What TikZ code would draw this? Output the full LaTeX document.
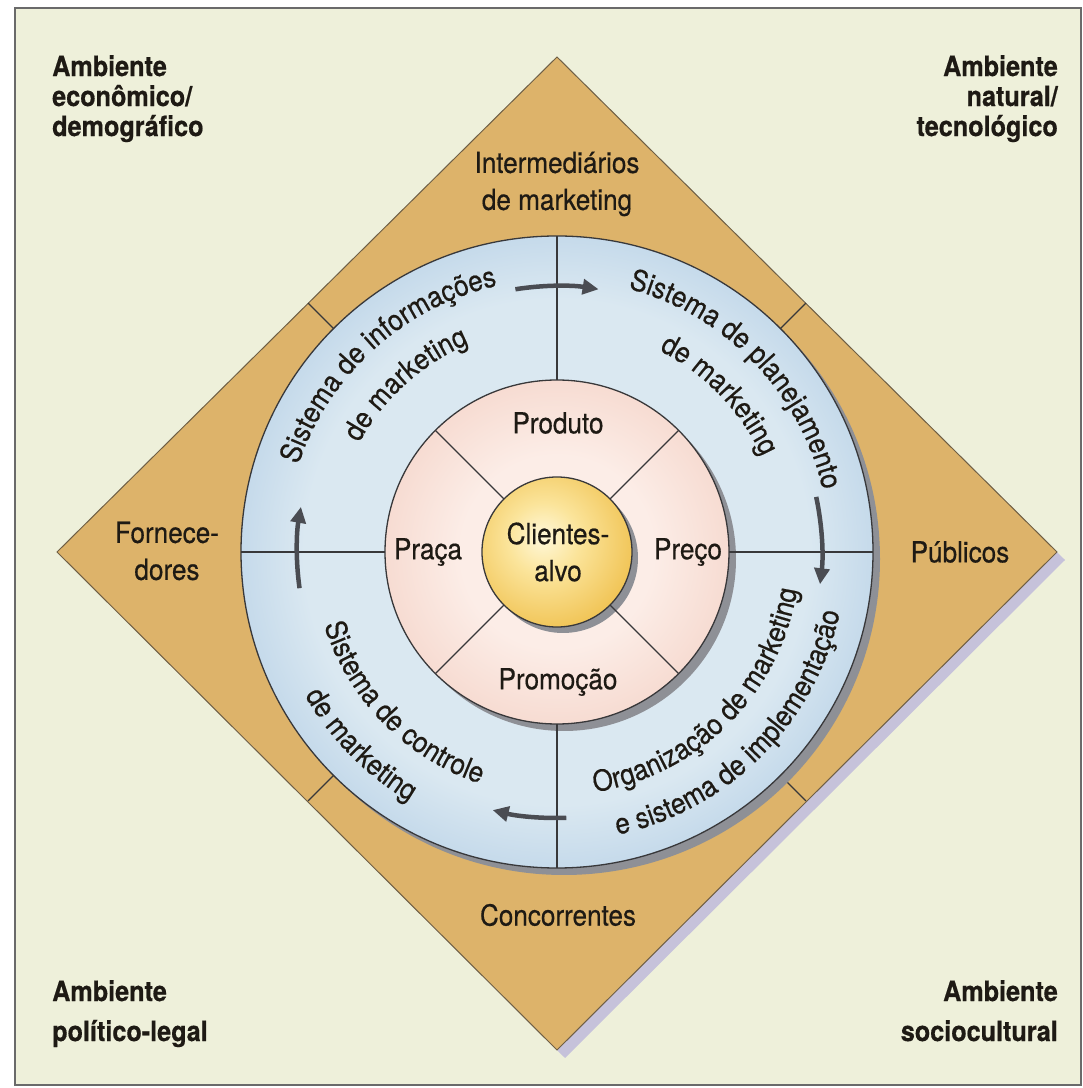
\documentclass[tikz,border=0pt]{standalone}
\usepackage{fontspec}
\setmainfont{TeX Gyre Heros}[FakeStretch=0.9, FakeBold=0.5]
\usetikzlibrary{decorations.text,arrows.meta,calc}

\definecolor{bg}{HTML}{EEF0DA}
\definecolor{tanfill}{HTML}{DDB36A}
\definecolor{tanedge}{HTML}{6F5F45}
\definecolor{diashadow}{HTML}{C6C2DA}
\definecolor{blueA}{HTML}{DAE8F1}
\definecolor{blueB}{HTML}{9CBEDE}
\definecolor{pinkA}{HTML}{FCEDE7}
\definecolor{pinkB}{HTML}{F2CCBF}
\definecolor{yelA}{HTML}{FFF8DA}
\definecolor{yelM}{HTML}{FBE49A}
\definecolor{yelB}{HTML}{EDB93E}
\definecolor{ink}{HTML}{1E1A14}
\definecolor{linec}{HTML}{38383A}
\definecolor{arrowc}{HTML}{4A4C52}
\definecolor{shadowc}{HTML}{8E9096}
\definecolor{framec}{HTML}{6A6A6A}

% radial shadings: the rim of a shaded circle sits at about 35bp
\pgfdeclareradialshading{bluering}{\pgfpoint{0bp}{0bp}}{color(0bp)=(blueA); color(20bp)=(blueA); color(35bp)=(blueB); color(100bp)=(blueB)}
\pgfdeclareradialshading{pinkdisc}{\pgfpoint{0bp}{0bp}}{color(0bp)=(pinkA); color(14bp)=(pinkA); color(35bp)=(pinkB); color(100bp)=(pinkB)}
\pgfdeclareradialshading{yelball}{\pgfpoint{-5bp}{5bp}}{color(0bp)=(yelA); color(12bp)=(yelM); color(36bp)=(yelB); color(100bp)=(yelB)}

\newcommand\regfont{\fontsize{29}{37}\selectfont}
\newcommand\envfont{\fontsize{28}{30}\selectfont\bfseries}
\newcommand\envfontlow{\fontsize{28}{40}\selectfont\bfseries}
\newcommand\ringfont{\fontsize{29}{35}\selectfont}

\begin{document}
\begin{tikzpicture}[x=1pt,y=1pt,
  lbl/.style={font=\regfont, text=ink, align=center, inner sep=0pt},
  envlbl/.style={font=\envfont, text=ink, inner sep=0pt},
  divider/.style={draw=linec, line width=1.4pt},
  rim/.style={draw=linec, line width=1.3pt},
  cyclearrow/.style={draw=arrowc, line width=4.5pt, -{Triangle[length=16pt,width=15pt]}},
  ringtext/.style={decorate, decoration={text along path, text align=center, text color=ink, text={|\ringfont|#1}}}
  ]
\useasboundingbox (0,0) rectangle (1083,1088);
\fill[white] (0,0) rectangle (1083,1088);
\fill[bg] (15,3) rectangle (1081,1080);
\draw[framec, line width=1.5pt] (15,3) rectangle (1081,1080);

\coordinate (C) at (557,536);

% environment diamond with its shadow
\fill[diashadow] (565,1023) -- (1065,528) -- (565,30) -- (65,528) -- cycle;
\filldraw[fill=tanfill, draw=tanedge, line width=1pt] (557,1031) -- (1057,536) -- (557,38) -- (57,536) -- cycle;

% diagonal ticks between the actors
\foreach \a in {45,135,225,315} \draw[divider] ($(C)+(\a:316)$) -- ($(C)+(\a:352)$);

% marketing systems ring
\fill[shadowc] ($(C)+(7,-7)$) circle[radius=316];
\shade[shading=bluering] (C) circle[radius=316];
\draw[rim] (C) circle[radius=316];

% marketing mix disc
\fill[shadowc] ($(C)+(7,-7)$) circle[radius=172];
\shade[shading=pinkdisc] (C) circle[radius=172];
\draw[rim] (C) circle[radius=172];

% target customers
\fill[shadowc] ($(C)+(6,-6)$) circle[radius=75];
\shade[shading=yelball] (C) circle[radius=75];
\draw[rim] (C) circle[radius=75];

% dividers
\foreach \a in {0,90,180,270} \draw[divider] ($(C)+(\a:172)$) -- ($(C)+(\a:316)$);
\foreach \a in {45,135,225,315} \draw[divider] ($(C)+(\a:75)$) -- ($(C)+(\a:172)$);

% ring texts
\path[ringtext={Sistema de informações}] ($(C)+(176:273)$) arc[start angle=176, end angle=88, radius=273];
\path[ringtext={de marketing}] ($(C)+(176:226)$) arc[start angle=176, end angle=88, radius=226];
\path[ringtext={Sistema de planejamento}] ($(C)+(88:273)$) arc[start angle=88, end angle=0, radius=273];
\path[ringtext={de marketing}] ($(C)+(88:226)$) arc[start angle=88, end angle=0, radius=226];
\path[ringtext={Organização de marketing}] ($(C)+(-90:243)$) arc[start angle=-90, end angle=0, radius=243];
\path[ringtext={e sistema de implementação}] ($(C)+(-90:289)$) arc[start angle=-90, end angle=0, radius=289];
\path[ringtext={Sistema de controle}] ($(C)+(180:244)$) arc[start angle=180, end angle=269, radius=244];
\path[ringtext={de marketing}] ($(C)+(180:290)$) arc[start angle=180, end angle=269, radius=290];

% cycle arrows
\draw[cyclearrow] ($(C)+(99:266)$) arc[start angle=99, end angle=81, radius=266];
\draw[cyclearrow] ($(C)+(12:265)$) arc[start angle=12, end angle=-7, radius=265];
\draw[cyclearrow] ($(C)+(-88:266)$) arc[start angle=-88, end angle=-104, radius=266];
\draw[cyclearrow] ($(C)+(188:260)$) arc[start angle=188, end angle=170, radius=260];

% centre labels
\node[lbl] (clientes) at (558,536) {Clientes-\\alvo};
\node[lbl] (produto) at (558,665) {Produto};
\node[lbl] (praca) at (428,536) {Praça};
\node[lbl] (preco) at (688,536) {Preço};
\node[lbl] (promocao) at (558,406) {Promoção};

% actors
\node[lbl] (interm) at (557,904) {Intermediários\\de marketing};
\node[lbl] (fornec) at (167,537) {Fornece-\\dores};
\node[lbl] (publicos) at (960,536) {Públicos};
\node[lbl] (concor) at (558,173) {Concorrentes};

% macro environment
\node[envlbl, anchor=north west, align=left] (econ) at (52,1033) {Ambiente\\econômico/\\demográfico};
\node[envlbl, anchor=north east, align=right] (natur) at (1058,1033) {Ambiente\\natural/\\tecnológico};
\node[envlbl, font=\envfontlow, anchor=north west, align=left] (polit) at (52,108) {Ambiente\\político-legal};
\node[envlbl, font=\envfontlow, anchor=north east, align=right] (socio) at (1058,108) {Ambiente\\sociocultural};
\end{tikzpicture}
\end{document}
